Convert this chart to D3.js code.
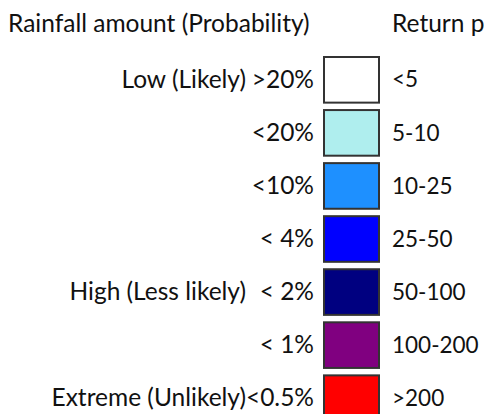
<!DOCTYPE html>
<html>
<head>
<meta charset="utf-8">
<script src="https://cdn.jsdelivr.net/npm/d3@7"></script>
<style>
  html, body { margin: 0; padding: 0; background: #fff; overflow: hidden; }
  text { font-family: Lato, "Open Sans", sans-serif; fill: #111; }
</style>
</head>
<body>
<svg id="chart" width="484" height="414"></svg>
<script>
const probLabels = [">20%", "<20%", "<10%", "< 4%", "< 2%", "< 1%", "<0.5%"];
const returnPeriods = ["<5", "5-10", "10-25", "25-50", "50-100", "100-200", ">200"];
const colors = ["#ffffff", "#afeeee", "#1e90ff", "#0000ff", "#000080", "#800080", "#ff0000"];
const groupLabels = [
  { row: 0, text: "Low (Likely)" },
  { row: 4, text: "High (Less likely)" },
  { row: 6, text: "Extreme (Unlikely)" },
];

const svg = d3.select("#chart");
const fontSize = 24.5;

const rows = d3.range(probLabels.length);
const y = d3.scaleBand().domain(rows).range([57, 57 + 52 * rows.length]).paddingInner(0.14).paddingOuter(0);

// headers
svg.append("text")
  .attr("x", 8)
  .attr("y", 32)
  .attr("font-size", fontSize)
  .text("Rainfall amount (Probability)");

svg.append("text")
  .attr("x", 392)
  .attr("y", 32)
  .attr("font-size", fontSize)
  .text("Return period (years)");

const row = svg.append("g")
  .selectAll("g")
  .data(rows)
  .join("g")
  .attr("transform", (d) => `translate(0, ${y(d)})`);

row.append("rect")
  .attr("x", 324)
  .attr("y", 0)
  .attr("width", 55)
  .attr("height", y.bandwidth())
  .attr("fill", (d) => colors[d])
  .attr("stroke", "#333")
  .attr("stroke-width", 2);

row.append("text")
  .attr("x", 314)
  .attr("y", y.bandwidth() / 2)
  .attr("dy", "0.32em")
  .attr("text-anchor", "end")
  .attr("font-size", fontSize)
  .text((d) => probLabels[d]);

// Lato digits run wider than the original face, so this column is a touch smaller
row.append("text")
  .attr("x", 392)
  .attr("y", y.bandwidth() / 2)
  .attr("dy", "0.34em")
  .attr("font-size", 22.5)
  .text((d) => returnPeriods[d]);

svg.append("g")
  .selectAll("text")
  .data(groupLabels)
  .join("text")
  .attr("x", 246)
  .attr("y", (d) => y(d.row) + y.bandwidth() / 2)
  .attr("dy", "0.32em")
  .attr("text-anchor", "end")
  .attr("font-size", fontSize)
  .text((d) => d.text);
</script>
</body>
</html>
